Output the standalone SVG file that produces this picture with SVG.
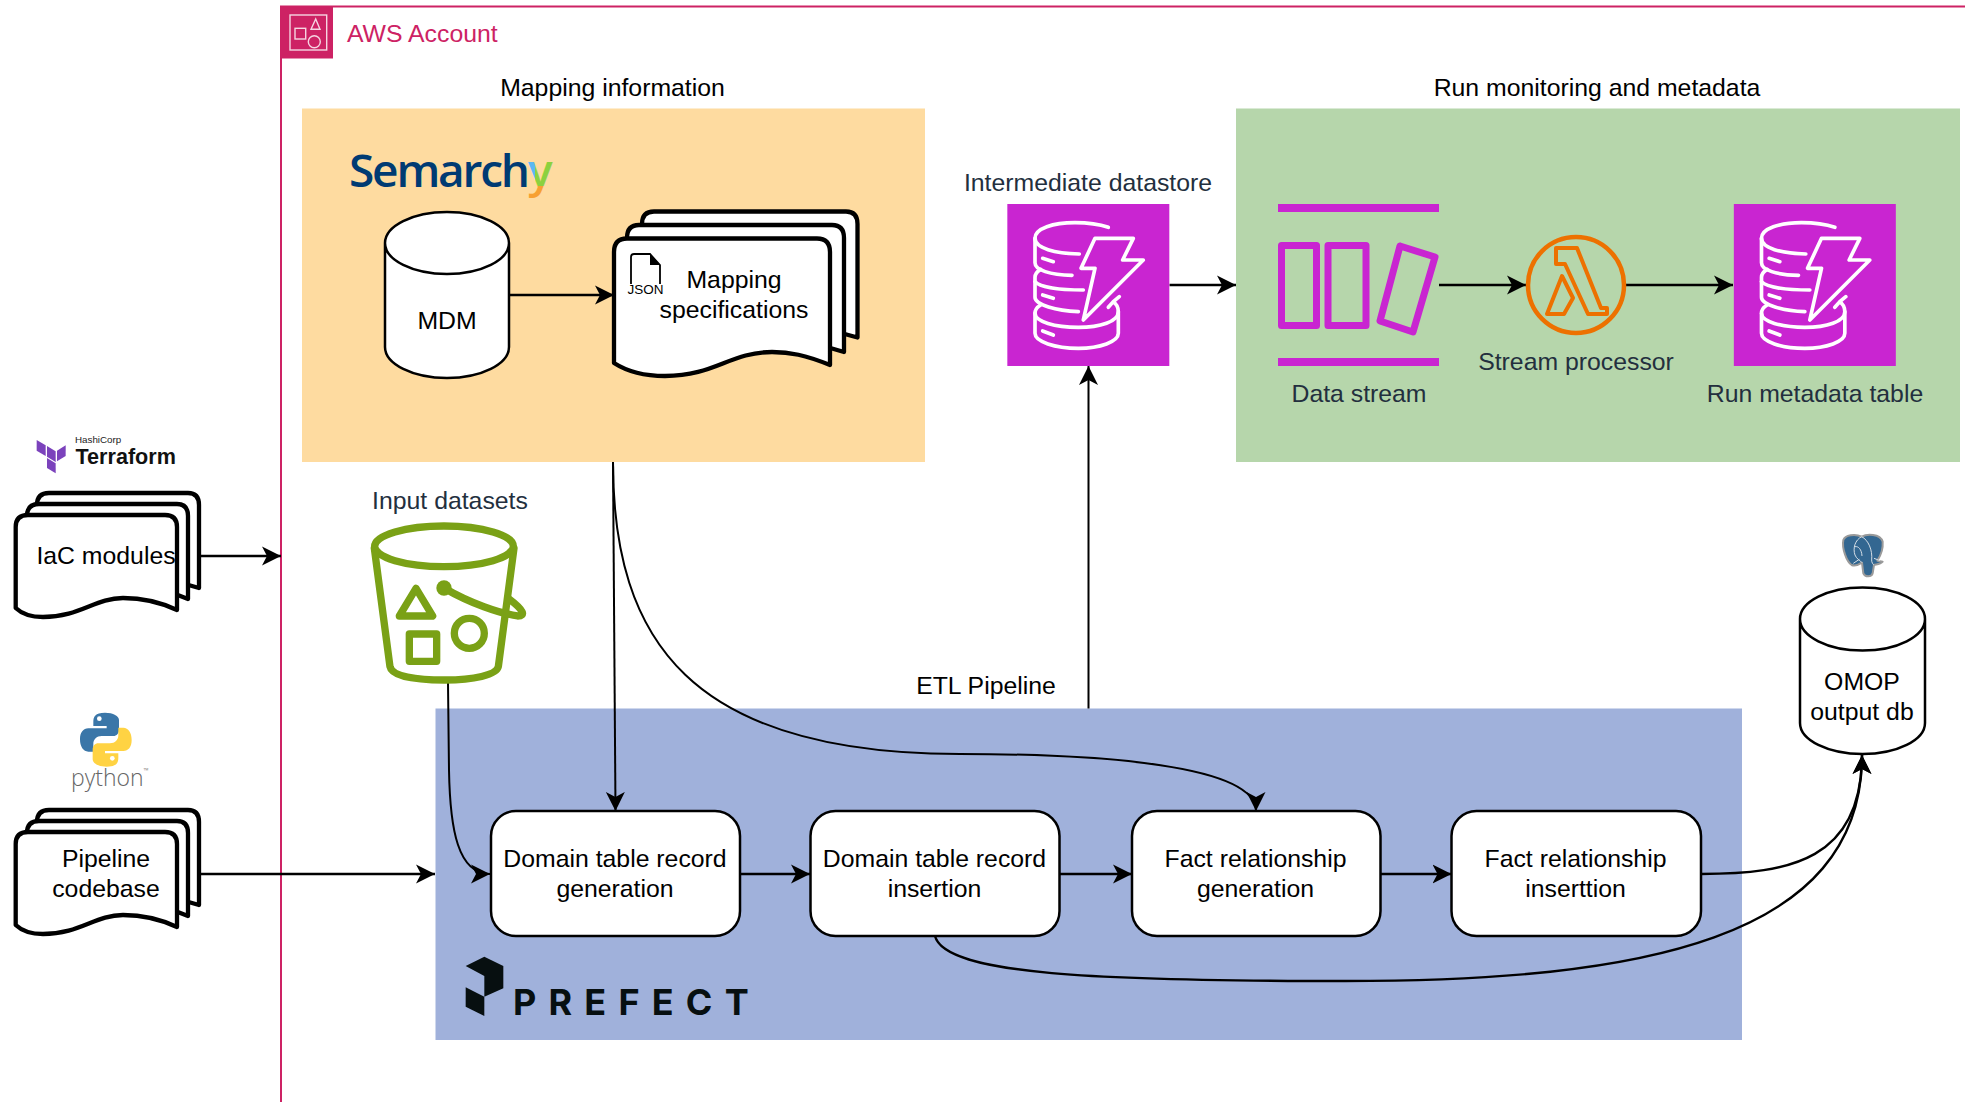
<svg xmlns="http://www.w3.org/2000/svg" width="1965" height="1102" viewBox="0 0 1965 1102">
<style>
text{font-family:"Liberation Sans",Arial,sans-serif;font-size:24.8px;fill:#000}
.c{text-anchor:middle}
.aws{fill:#232F3E}
.conn{fill:none;stroke:#000;stroke-width:2.4}
.thin{stroke-width:2}
.doc{fill:#fff;stroke:#000;stroke-width:4.3;stroke-linejoin:round}
.shape{fill:#fff;stroke:#000;stroke-width:2.5}
.box{fill:#fff;stroke:#000;stroke-width:2.5}
.bk{fill:none;stroke:#7AA116;stroke-width:22;stroke-linejoin:round;stroke-linecap:round}
.dd{fill:none;stroke:#fff;stroke-width:11;stroke-linejoin:round;stroke-linecap:round}
.pur{fill:#C925D1}
.pl{fill:none;stroke:#C925D1;stroke-width:7;stroke-linejoin:round}
</style>
<defs>
<marker id="arr" markerUnits="userSpaceOnUse" markerWidth="21" markerHeight="21" refX="19" refY="10.5" orient="auto"><path d="M0,1 L19,10.5 L0,20 L5,10.5Z" fill="#000"/></marker>
<pattern id="yfill" patternUnits="userSpaceOnUse" x="0" y="0" width="1965" height="1102">
<rect x="500" y="130" width="35" height="56" fill="#5CB8F2"/><rect x="535" y="130" width="40" height="56" fill="#8CD13F"/><rect x="500" y="186" width="75" height="40" fill="#F7A032"/>
</pattern>
<g id="ddb">
<rect x="22" y="42" width="486" height="486" fill="#C925D1"/>
<path class="dd" d="M325,112C290,100 260,98 225,98C160,98 105,115 105,145C105,175 165,190 238,192"/>
<path class="dd" d="M105,145V218C105,240 150,255 216,256"/>
<path class="dd" d="M122,238C112,244 105,250 105,262V322C105,345 170,362 235,365"/>
<path class="dd" d="M105,275C120,292 180,300 250,300"/>
<path class="dd" d="M122,345C110,352 105,360 105,370C105,395 165,412 235,412C300,412 355,395 355,365C355,352 350,342 340,335M340,335L358,320M340,335L325,352"/>
<path class="dd" d="M105,370V430C105,455 165,475 235,475C300,475 355,455 355,430V365"/>
<path class="dd" d="M128,205L160,215M128,315L160,325M128,423L160,435"/>
<path class="dd" d="M285,145H400L368,210H430L250,390L285,235H243Z"/>
</g>
</defs>

<g id="aws-account">
<path d="M281,1102V6.5H1965" fill="none" stroke="#CD2264" stroke-width="2"/>
<rect x="280" y="6.5" width="53" height="52" fill="#CD2264"/>
<g fill="none" stroke="#F6D5E2" stroke-width="1.4">
<rect x="290" y="15" width="36.7" height="35"/>
<rect x="295" y="28.3" width="10.7" height="10.7"/>
<path d="M315.7,19L320,29.3H311Z"/>
<circle cx="314.3" cy="41.7" r="6"/>
</g>
<text x="347" y="42" style="fill:#CD2264">AWS Account</text>
</g>

<g id="mapping-group">
<rect x="302" y="108.5" width="623" height="353.5" fill="#FEDBA0"/>
<text class="c" x="612.5" y="95.7">Mapping information</text>
<text x="349" y="187" style="font-family:'Open Sans',sans-serif;font-size:46px;font-weight:600;fill:#003B73;letter-spacing:-2.2px">Semarch<tspan style="fill:url(#yfill)">y</tspan></text>
</g>
<g id="monitoring-group">
<rect x="1236" y="108.5" width="724" height="353.5" fill="#B6D6AB"/>
<text class="c" x="1597" y="95.7">Run monitoring and metadata</text>
</g>
<g id="etl-group">
<rect x="435.5" y="708.5" width="1306.5" height="331.5" fill="#A0B1DB"/>
<text class="c" x="986" y="694">ETL Pipeline</text>
</g>

<g id="connectors">
<path class="conn" d="M509,295H614" marker-end="url(#arr)"/>
<path class="conn thin" d="M613,462L615.5,811" marker-end="url(#arr)"/>
<path class="conn thin" d="M613,462C613,640 690,754 960,754C1100,754 1256,765 1256,811" marker-end="url(#arr)"/>
<path class="conn thin" d="M448,683L449,770C450,830 458,874 490,874" marker-end="url(#arr)"/>
<path class="conn" d="M200,556H281" marker-end="url(#arr)"/>
<path class="conn" d="M200,874H435" marker-end="url(#arr)"/>
<path class="conn" d="M740,874H810" marker-end="url(#arr)"/>
<path class="conn" d="M1059,874H1132" marker-end="url(#arr)"/>
<path class="conn" d="M1380.5,874H1451.5" marker-end="url(#arr)"/>
<path class="conn" d="M1701,874C1790,874 1862,860 1862,755" marker-end="url(#arr)"/>
<path class="conn" d="M935,936C945,975 1100,981 1345,981C1640,981 1862,940 1862,755" marker-end="url(#arr)"/>
<path class="conn thin" d="M1088.5,708.5V366" marker-end="url(#arr)"/>
<path class="conn" d="M1169.5,285H1236" marker-end="url(#arr)"/>
<path class="conn" d="M1439,285H1526" marker-end="url(#arr)"/>
<path class="conn" d="M1626,285H1733" marker-end="url(#arr)"/>
</g>

<g id="mdm">
<path class="shape" d="M385,243V347A62,31 0 0 0 509,347V243A62,31 0 0 0 385,243A62,31 0 0 0 509,243"/>
<text class="c" x="447" y="329">MDM</text>
</g>

<g id="mapping-specifications">
<path class="doc" d="M642,300V224Q642,211.5 654,211.5H846Q857.5,211.5 857.5,224V337.5L830,330H642Z"/>
<path class="doc" d="M627,320V238Q627,225 639,225H832Q844,225 844,238V352L820,345H627Z"/>
<path class="doc" d="M614,363V252Q614,238.5 627,238.5H817Q830,238.5 830,252V365C805,355 790,352 772,352C730,352 715,376 665,376C645,376 628,372 614,363Z"/>
<path d="M631,284V257Q631,254 634,254H650L660,265V284" fill="none" stroke="#000" stroke-width="1.8"/>
<path d="M650,254L660,265H650Z" fill="#000"/>
<text class="c" x="645.6" y="294" style="font-size:13.5px">JSON</text>
<text class="c" x="734" y="287.5">Mapping</text>
<text class="c" x="734" y="318">specifications</text>
</g>

<g id="terraform">
<g fill="#7B42BC" transform="translate(0,420) scale(.3333)">
<path d="M110,60L137,76V108L110,92Z"/>
<path d="M141,78L167,94V126L141,110Z"/>
<path d="M141,114L167,130V160L141,144Z"/>
<path d="M197,76L171,92V124L197,108Z"/>
</g>
<text x="75" y="443" style="font-size:9.8px;fill:#222">HashiCorp</text>
<text x="75.5" y="464.3" style="font-size:21.6px;font-weight:bold;fill:#111">Terraform</text>
</g>

<g id="iac-modules">
<path class="doc" d="M37,560V505Q37,493 49,493H188Q199,493 199,505V588L178,582H37Z"/>
<path class="doc" d="M27,570V516Q27,504 39,504H177Q188,504 188,516V599L170,592H27Z"/>
<path class="doc" d="M15.7,608V527Q15.7,515 28,515H165Q177,515 177,527V610C160,602 140,598 123,598C95,598 80,617 43,617C32,617 22,614 15.7,608Z"/>
<text class="c" x="106" y="564">IaC modules</text>
</g>

<g id="python">
<g transform="translate(50,700) scale(.3333)">
<path fill="#3A76A8" d="M165,38C135,38 130,50 130,65V78H170V85H115C100,85 90,97 90,118C90,140 100,155 115,155H130V132C130,118 140,108 155,108H190C200,108 207,100 207,90V60C207,48 190,38 165,38Z"/>
<circle cx="148" cy="56" r="7" fill="#fff"/>
<path transform="rotate(180 167.5 119)" fill="#FFD343" d="M165,38C135,38 130,50 130,65V78H170V85H115C100,85 90,97 90,118C90,140 100,155 115,155H130V132C130,118 140,108 155,108H190C200,108 207,100 207,90V60C207,48 190,38 165,38Z"/>
<circle cx="187" cy="175" r="7" fill="#fff"/>
</g>
<text x="71" y="786" style="font-family:'Open Sans',sans-serif;font-size:23px;font-weight:300;fill:#666">python<tspan dy="-13" style="font-size:7px">™</tspan></text>
</g>

<g id="pipeline-codebase">
<path class="doc" d="M37,877V822Q37,810 49,810H188Q199,810 199,822V905L178,899H37Z"/>
<path class="doc" d="M27,887V833Q27,821 39,821H177Q188,821 188,833V916L170,909H27Z"/>
<path class="doc" d="M15.7,925V844Q15.7,832 28,832H165Q177,832 177,844V927C160,919 140,915 123,915C95,915 80,934 43,934C32,934 22,931 15.7,925Z"/>
<text class="c" x="106" y="867">Pipeline</text>
<text class="c" x="106" y="897">codebase</text>
</g>

<g id="input-datasets">
<text class="c aws" x="450" y="509">Input datasets</text>
<g transform="translate(360,510) scale(.3333)">
<ellipse class="bk" cx="252" cy="109" rx="208" ry="61"/>
<path class="bk" d="M43,115L90,470C95,500 170,510 255,510C340,510 410,495 415,470L462,115"/>
<path class="bk" d="M252,234C330,280 420,310 473,318C498,318 492,300 445,265"/>
<circle cx="252" cy="234" r="23" fill="#7AA116"/>
<path class="bk" d="M168,235L218,318H118Z"/>
<rect class="bk" x="148" y="372" width="82" height="82"/>
<circle class="bk" cx="328" cy="370" r="45"/>
</g>
</g>

<g id="intermediate-datastore">
<text class="c aws" x="1088" y="191">Intermediate datastore</text>
<use href="#ddb" transform="translate(1000,190) scale(.3333)"/>
</g>

<g id="data-stream">
<rect class="pur" x="1278" y="204" width="161" height="8"/>
<rect class="pur" x="1278" y="358" width="161" height="8"/>
<rect class="pl" x="1281.5" y="245.5" width="35" height="80"/>
<rect class="pl" x="1328" y="245.5" width="38" height="80"/>
<path class="pl" d="M1400,246L1435,257L1413,332L1380,321Z"/>
<text class="c aws" x="1359" y="402">Data stream</text>
</g>

<g id="stream-processor">
<circle cx="1576" cy="285" r="48" fill="none" stroke="#ED7100" stroke-width="4.5"/>
<g fill="none" stroke="#ED7100" stroke-width="4" stroke-linejoin="round">
<path d="M1556,248H1577L1601,308H1607V314H1588L1565,264H1556Z"/>
<path d="M1562,276L1573,298L1564,314H1547Z"/>
</g>
<text class="c aws" x="1576" y="370">Stream processor</text>
</g>

<g id="run-metadata-table">
<use href="#ddb" transform="translate(1726.5,190) scale(.3333)"/>
<text class="c aws" x="1815" y="402">Run metadata table</text>
</g>

<g id="omop-output-db">
<g transform="translate(1800,520) scale(.3333)">
<path fill="#336791" stroke="#9A9A9A" stroke-width="6" stroke-linejoin="round" d="M130,60C135,45 165,40 185,50C200,42 240,40 248,65C250,90 240,110 232,122L248,125C240,135 225,132 222,135L218,160C215,172 195,172 190,160L186,128C175,135 165,140 155,135C140,125 125,85 130,60Z"/>
<path fill="none" stroke="#D5DEE6" stroke-width="3" d="M185,50C165,60 158,85 165,105C170,118 180,120 186,128M185,50C205,60 218,90 215,120C214,126 220,135 222,135M165,80C175,78 185,88 186,108M160,130L178,118M222,115L240,122"/>
</g>
<path class="shape" d="M1800,619V723A62.5,31 0 0 0 1925,723V619A62.5,31.5 0 0 0 1800,619A62.5,31.5 0 0 0 1925,619"/>
<text class="c" x="1862" y="690">OMOP</text>
<text class="c" x="1862" y="720">output db</text>
</g>

<g id="domain-table-record-generation">
<rect class="box" x="491" y="811" width="249" height="125" rx="25"/>
<text class="c" x="615" y="867">Domain table record</text>
<text class="c" x="615" y="897">generation</text>
</g>
<g id="domain-table-record-insertion">
<rect class="box" x="810.5" y="811" width="249" height="125" rx="25"/>
<text class="c" x="934.5" y="867">Domain table record</text>
<text class="c" x="934.5" y="897">insertion</text>
</g>
<g id="fact-relationship-generation">
<rect class="box" x="1132" y="811" width="248.5" height="125" rx="25"/>
<text class="c" x="1255.5" y="867">Fact relationship</text>
<text class="c" x="1255.5" y="897">generation</text>
</g>
<g id="fact-relationship-insertion">
<rect class="box" x="1451.5" y="811" width="249.5" height="125" rx="25"/>
<text class="c" x="1575.5" y="867">Fact relationship</text>
<text class="c" x="1575.5" y="897">inserttion</text>
</g>

<g id="prefect">
<g fill="#070F10" transform="translate(450,940) scale(.3333)">
<path d="M47,78L103,50L160,78V145L103,170V108Z"/>
<path d="M47,142L103,170V228L47,200Z"/>
</g>
<text x="513" y="1015" style="font-family:Inter,'Liberation Sans',sans-serif;font-size:36px;font-weight:700;fill:#070F10;letter-spacing:12.2px">PREFECT</text>
</g>
</svg>
